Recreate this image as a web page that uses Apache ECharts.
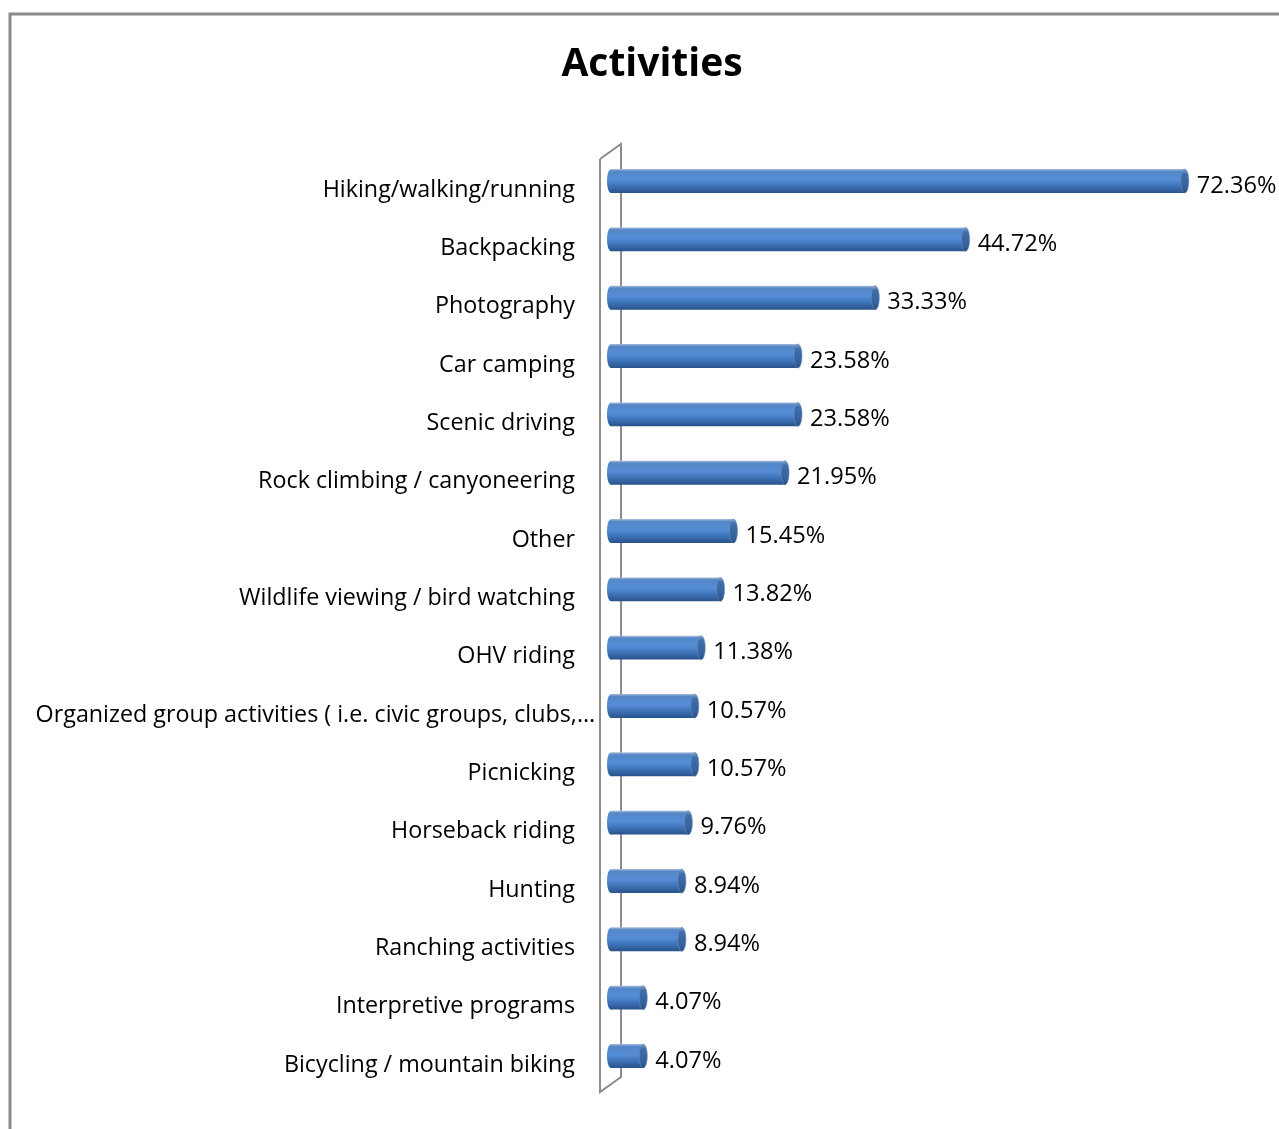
<!DOCTYPE html>
<html>
<head>
<meta charset="utf-8">
<title>Activities</title>
<script src="https://cdn.jsdelivr.net/npm/echarts@6/dist/echarts.min.js"></script>
<style>
  html, body { margin: 0; padding: 0; background: #ffffff; }
  #chart { width: 1279px; height: 1129px; }
</style>
</head>
<body>
<div id="chart"></div>
<script>
// Activities, share of respondents (%), top to bottom
const categories = [
  'Hiking/walking/running',
  'Backpacking',
  'Photography',
  'Car camping',
  'Scenic driving',
  'Rock climbing / canyoneering',
  'Other',
  'Wildlife viewing / bird watching',
  'OHV riding',
  'Organized group activities ( i.e. civic groups, clubs,\u2026',
  'Picnicking',
  'Horseback riding',
  'Hunting',
  'Ranching activities',
  'Interpretive programs',
  'Bicycling / mountain biking'
];
const shares = [72.36, 44.72, 33.33, 23.58, 23.58, 21.95, 15.45, 13.82, 11.38, 10.57, 10.57, 9.76, 8.94, 8.94, 4.07, 4.07];
const valueLabels = ['72.36%', '44.72%', '33.33%', '23.58%', '23.58%', '21.95%', '15.45%', '13.82%', '11.38%', '10.57%', '10.57%', '9.76%', '8.94%', '8.94%', '4.07%', '4.07%'];

const FONT = '"Open Sans", "Noto Sans", sans-serif';
const chart = echarts.init(document.getElementById('chart'));

// cylinder body shading (lit from above)
function bodyFill() {
  return new echarts.graphic.LinearGradient(0, 0, 0, 1, [
    { offset: 0.00, color: '#aabddb' },
    { offset: 0.10, color: '#5587c8' },
    { offset: 0.45, color: '#548dd6' },
    { offset: 0.75, color: '#3b6eb2' },
    { offset: 1.00, color: '#28528a' }
  ]);
}
function capFill() {
  return new echarts.graphic.LinearGradient(0, 0, 0, 1, [
    { offset: 0.00, color: '#8fa9cf' },
    { offset: 0.20, color: '#3f6ea9' },
    { offset: 0.80, color: '#335f98' },
    { offset: 1.00, color: '#25497a' }
  ]);
}

function renderCylinder(params, api) {
  const idx = api.value(1);
  const val = api.value(0);
  const start = api.coord([0, idx]);
  const end = api.coord([val, idx]);
  const band = api.size([0, 1])[1];
  const h = band * 0.41;
  const cy = start[1];
  const rx = 4;
  return {
    type: 'group',
    children: [
      { type: 'ellipse', shape: { cx: start[0], cy: cy, rx: rx, ry: h / 2 }, style: { fill: bodyFill() } },
      { type: 'rect', shape: { x: start[0], y: cy - h / 2, width: end[0] - start[0], height: h }, style: { fill: bodyFill() } },
      { type: 'ellipse', shape: { cx: end[0], cy: cy, rx: rx, ry: h / 2 }, style: { fill: capFill(), stroke: '#6f8fbd', lineWidth: 0.6 } },
      {
        type: 'text',
        style: {
          x: end[0] + 12, y: cy + 5,
          text: valueLabels[params.dataIndex],
          fill: '#000000', font: '23.6px ' + FONT,
          verticalAlign: 'middle', align: 'left'
        }
      }
    ]
  };
}

chart.setOption({
  backgroundColor: '#ffffff',
  animation: false,
  title: {
    text: 'Activities',
    left: 647, top: 40, textAlign: 'center',
    textStyle: { fontFamily: FONT, fontSize: 39, fontWeight: 'bold', color: '#000000' }
  },
  grid: { left: 611, top: 151.85, width: 634.4, height: 933.3, containLabel: false },
  xAxis: {
    type: 'value', min: 0, max: 80, interval: 10,
    show: false
  },
  yAxis: {
    type: 'category',
    data: categories,
    inverse: true,
    axisLine: { show: false },
    axisTick: { show: false },
    splitLine: { show: false },
    axisLabel: {
      margin: 16,
      interval: 0,
      formatter: function (v) {
        return v.length > 40 ? '{long|' + v + '}' : '{std|' + v + '}';
      },
      rich: {
        std: { fontFamily: FONT, fontSize: 23.3, color: '#000000', padding: [18, 20, 0, 0] },
        long: { fontFamily: FONT, fontSize: 23.3, color: '#000000', padding: [18, 0, 0, 0] }
      }
    }
  },
  graphic: [
    // outer chart border
    { type: 'rect', z: 0, shape: { x: 10, y: 14, width: 1400, height: 1300 }, style: { fill: 'none', stroke: '#8a8a8a', lineWidth: 3 } },
    // back wall of the plot area
    { type: 'polyline', z: 0, shape: { points: [[600, 159], [621, 144], [621, 1077], [600, 1092], [600, 159]] }, style: { fill: 'none', stroke: '#8c8c8c', lineWidth: 2 } }
  ],
  series: [{
    type: 'custom',
    z: 5,
    renderItem: renderCylinder,
    encode: { x: 0, y: 1 },
    data: shares.map((v, i) => [v, i])
  }]
});
</script>
</body>
</html>
